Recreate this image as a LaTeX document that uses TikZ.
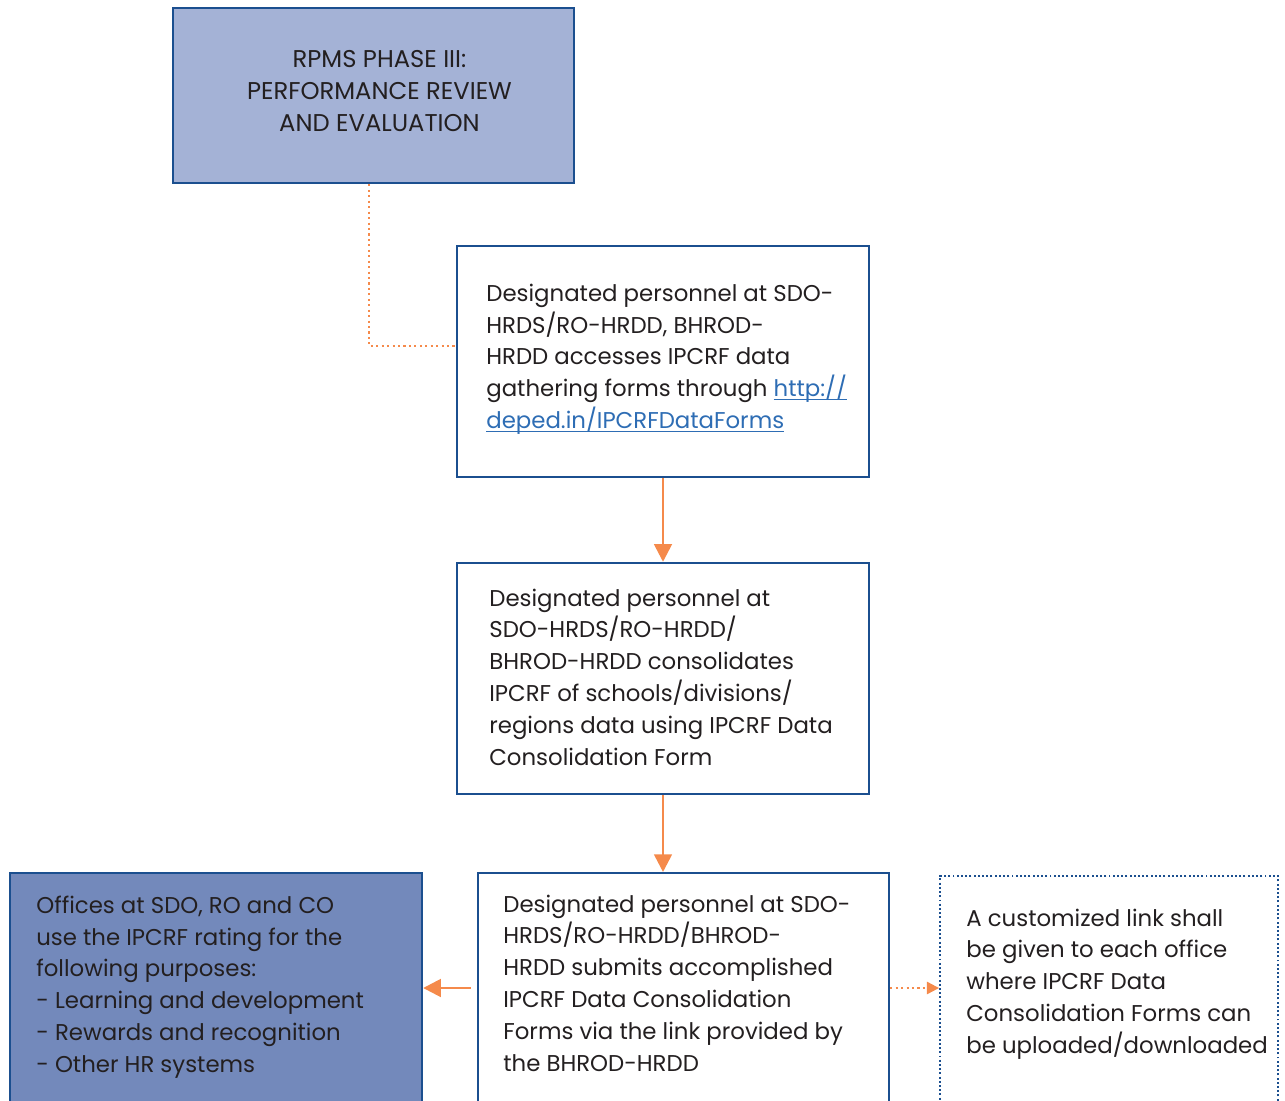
\documentclass[tikz,border=0pt]{standalone}
\usepackage{fontspec}
\setmainfont{Poppins}
\usetikzlibrary{positioning, arrows.meta, calc}
\definecolor{rimblue}{HTML}{1B4F8F}
\definecolor{phasefill}{HTML}{A4B2D6}
\definecolor{usefill}{HTML}{7389BB}
\definecolor{flowor}{HTML}{F58A4B}
\definecolor{inktext}{HTML}{231F20}
\definecolor{linkblue}{HTML}{2E6DB4}
\newcommand{\boxfont}{\fontsize{13}{18.1}\selectfont}
\newcommand{\weblink}[1]{\textcolor{linkblue}{\underline{\smash{#1}}}}

\begin{document}
\begin{tikzpicture}[x=0.02cm, y=-0.02cm,
	stepframe/.style={draw=rimblue, line width=1.4pt, rectangle, inner sep=0pt},
	steptext/.style={text=inktext, align=left, font=\boxfont, inner sep=0pt},
	flowarrow/.style={draw=flowor, line width=1.5pt, -{Triangle[length=10pt, width=10pt]}},
	dotline/.style={draw=flowor, line width=1.2pt, dash pattern=on 1.2pt off 1.9pt}
	]
	\path[use as bounding box, clip] (0,0) rectangle (1285,1101);

	% phase box
	\node[stepframe, fill=phasefill, line width=1.6pt, minimum width=8.02cm, minimum height=3.5cm] (phase) at (373.5,95.5) {};
	\node[steptext, align=center, font=\fontsize{13.8}{18.1}\selectfont] (phasetxt) at (379.5,91)
		{RPMS PHASE III:\\PERFORMANCE REVIEW\\AND EVALUATION};

	% steps
	\node[stepframe, minimum width=8.24cm, minimum height=4.62cm] (access) at (663,361.5) {};
	\node[steptext, anchor=west] (accesstxt) at (486,358)
		{Designated personnel at SDO-\\HRDS/RO-HRDD, BHROD-\\HRDD accesses IPCRF data\\gathering forms through \weblink{http://}\\\weblink{deped.in/IPCRFDataForms}};

	\node[stepframe, minimum width=8.24cm, minimum height=4.62cm] (consol) at (663,678.5) {};
	\node[steptext, anchor=west] (consoltxt) at (489,677)
		{Designated personnel at\\SDO-HRDS/RO-HRDD/\\BHROD-HRDD consolidates\\IPCRF of schools/divisions/\\regions data using IPCRF Data\\Consolidation Form};

	\node[stepframe, minimum width=8.22cm, minimum height=6cm, anchor=north] (submit) at (683.5,872) {};
	\node[steptext, anchor=west] (submittxt) at (503,983)
		{Designated personnel at SDO-\\HRDS/RO-HRDD/BHROD-\\HRDD submits accomplished\\IPCRF Data Consolidation\\Forms via the link provided by\\the BHROD-HRDD};

	\node[stepframe, fill=usefill, minimum width=8.24cm, minimum height=6cm, anchor=north] (uses) at (216,872) {};
	\node[steptext, anchor=west] (usestxt) at (36,987)
		{Offices at SDO, RO and CO\\use the IPCRF rating for the\\following purposes:\\- Learning and development\\- Rewards and recognition\\- Other HR systems};

	\node[stepframe, line width=1.1pt, dash pattern=on 1.1pt off 1.3pt, minimum width=6.76cm, minimum height=6cm, anchor=north] (link) at (1109,875) {};
	\node[steptext, anchor=west] (linktxt) at (966,984)
		{A customized link shall\\be given to each office\\where IPCRF Data\\Consolidation Forms can\\be uploaded/downloaded};

	% connectors
	\coordinate (elbow) at (369,346);
	\coordinate (midrow) at (0,988);
	\draw[dotline] (phase.south -| elbow) -- (elbow) -- (elbow -| access.west);
	\draw[flowarrow] (access.south) -- (consol.north);
	\draw[flowarrow] (consol.south) -- (consol.south |- submit.north);
	\draw[flowarrow] ([xshift=-0.12cm]submit.west |- midrow) -- (uses.east |- midrow);
	\draw[dotline, -{Triangle[length=7pt, width=7pt]}] (submit.east |- midrow) -- (link.west |- midrow);
\end{tikzpicture}
\end{document}
